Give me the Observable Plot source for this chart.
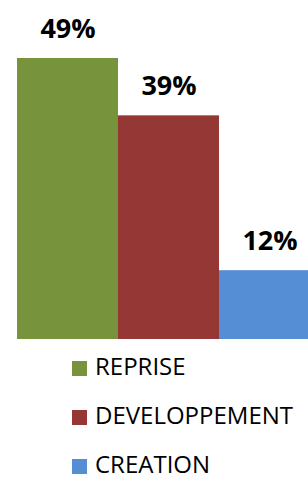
<!DOCTYPE html>
<html>
<head>
<meta charset="utf-8">
<script src="https://cdn.jsdelivr.net/npm/d3@7"></script>
<script src="https://cdn.jsdelivr.net/npm/@observablehq/plot@0.6"></script>
<style>
  html, body { margin: 0; padding: 0; background: #fff; }
  body { width: 308px; height: 477px; overflow: hidden; position: relative; }
  #chart { position: absolute; left: 0; top: 0; width: 308px; height: 340px; overflow: hidden; }
  #chart svg { display: block; }
  #legend { position: absolute; left: 72px; top: 357px; font-family: "Open Sans", sans-serif; font-size: 24px; line-height: 22px; color: #000; }
  .lrow { display: flex; align-items: center; height: 22px; margin-bottom: 27px; white-space: nowrap; }
  .lrow:last-child { margin-bottom: 0; }
  .lrow span { position: relative; top: -2px; line-height: 22px; }
  .sw { width: 15px; height: 15px; margin-right: 8px; flex: none; }
</style>
</head>
<body>
<div id="chart"></div>
<div id="legend"></div>
<script>
const categories = ["REPRISE", "DEVELOPPEMENT", "CREATION"];
const values = [49, 39, 12];
const labels = ["49%", "39%", "12%"];
const colors = ["#77933C", "#953735", "#558ED5"];

const data = categories.map((c, i) => ({category: c, value: values[i], label: labels[i]}));

const chart = Plot.plot({
  width: 308,
  height: 340,
  marginTop: 0, marginBottom: 0, marginLeft: 0, marginRight: 0,
  x: {domain: categories, range: [17, 320], padding: 0, axis: null},
  y: {domain: [0, 49], range: [339, 58], axis: null},
  color: {domain: categories, range: colors},
  style: {background: "#fff"},
  marks: [
    Plot.barY(data, {x: "category", y: "value", fill: "category", insetLeft: 0, insetRight: 0}),
    Plot.text(data, {
      x: "category", y: "value", text: "label",
      lineAnchor: "bottom", dy: -21,
      fontFamily: "Open Sans", fontWeight: "bold", fontSize: 27, fill: "#000"
    })
  ]
});
document.getElementById("chart").appendChild(chart);

const legend = document.getElementById("legend");
categories.forEach((c, i) => {
  const row = document.createElement("div");
  row.className = "lrow";
  const sw = document.createElement("div");
  sw.className = "sw";
  sw.style.background = colors[i];
  const t = document.createElement("span");
  t.textContent = c;
  row.appendChild(sw);
  row.appendChild(t);
  legend.appendChild(row);
});
</script>
</body>
</html>
